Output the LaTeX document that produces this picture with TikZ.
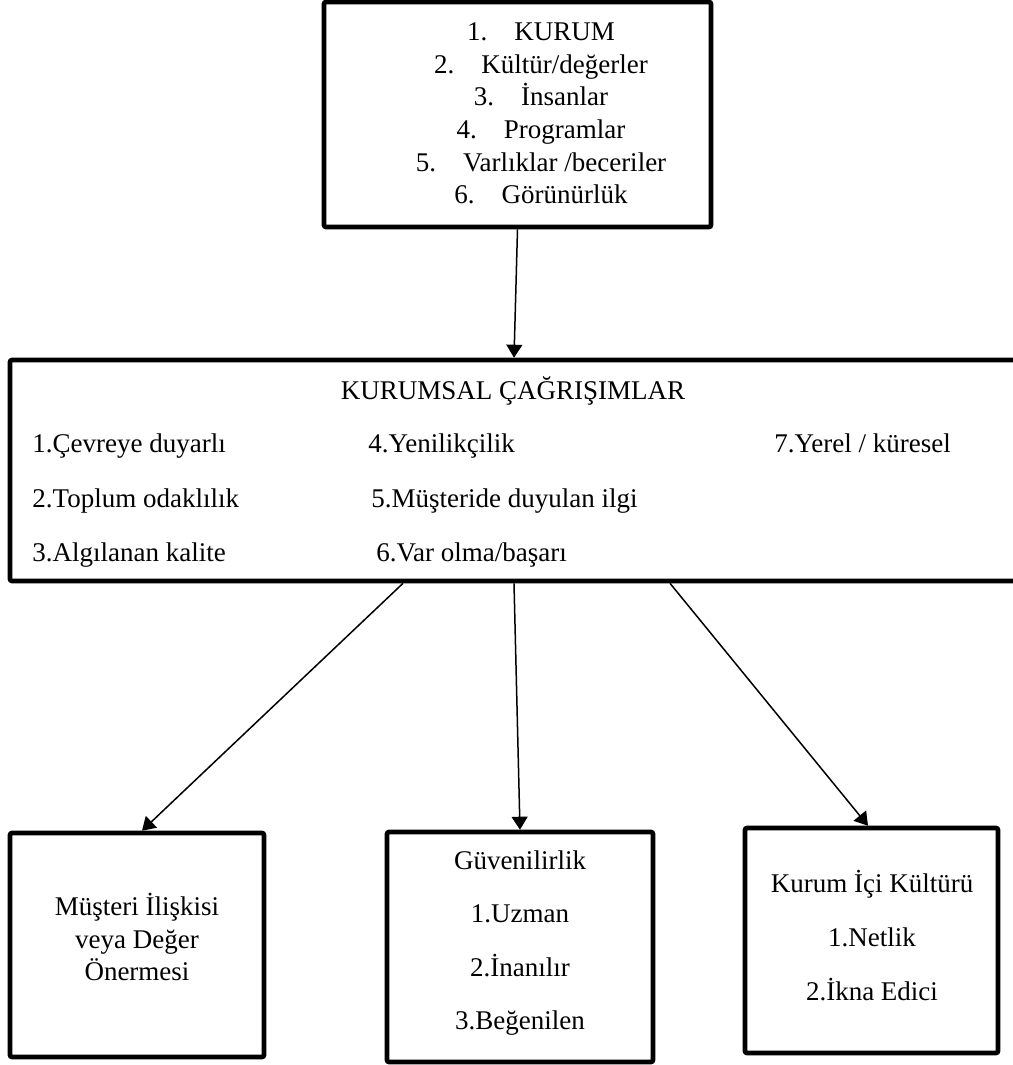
\documentclass[tikz,border=0pt]{standalone}
\usepackage{fontspec}
\setmainfont{Liberation Serif}
\usetikzlibrary{arrows.meta,positioning,fit,calc}
\tikzstyle{arrow} = [line width=0.75pt,-{Triangle[length=6.5pt,width=8pt]}]
\tikzstyle{kutu} = [rectangle, rounded corners=1pt, draw=black, line width=2.3pt, inner sep=0pt]
\tikzstyle{yazi} = [font=\fontsize{13.5}{16.3}\selectfont, inner sep=0pt]

\begin{document}
\begin{tikzpicture}[x=0.5pt, y=-0.5pt]
\useasboundingbox (0,0) rectangle (1012,1065);

% Kurum
\node[kutu, fit={(324,2) (711,227)}] (kurum) {};
\node[yazi, align=center] (kurumyazi) at (541, 113.5) {
1.\hspace{1em}KURUM\\
2.\hspace{1em}Kültür/değerler\\
3.\hspace{1em}İnsanlar\\
4.\hspace{1em}Programlar\\
5.\hspace{1em}Varlıklar /beceriler\\
6.\hspace{1em}Görünürlük
};

% Kurumsal cagrisimlar
\node[kutu, fit={(10,360) (1018,581)}] (cagrisim) {};
\node[yazi, anchor=base] (baslik) at (513, 399) {KURUMSAL ÇAĞRIŞIMLAR};
\node[yazi, anchor=base west] (c1) at (32, 452) {1.Çevreye duyarlı};
\node[yazi, anchor=base west] (c2) at (32, 507) {2.Toplum odaklılık};
\node[yazi, anchor=base west] (c3) at (32, 561) {3.Algılanan kalite};
\node[yazi, anchor=base west] (c4) at (368, 452) {4.Yenilikçilik};
\node[yazi, anchor=base west] (c5) at (371, 507) {5.Müşteride duyulan ilgi};
\node[yazi, anchor=base west] (c6) at (376, 561) {6.Var olma/başarı};
\node[yazi, anchor=base west] (c7) at (774, 452) {7.Yerel / küresel};

% Alt kutular
\node[kutu, fit={(10,833) (264,1057)}] (musteri) {};
\node[yazi, align=center] (musteriyazi) at (137, 937) {
Müşteri İlişkisi\\
veya Değer\\
Önermesi
};

\node[kutu, fit={(387,832) (653,1062)}] (guven) {};
\node[yazi, align=center, font=\fontsize{13.5}{26.7}\selectfont] (guvenyazi) at (520, 943) {
Güvenilirlik\\
1.Uzman\\
2.İnanılır\\
3.Beğenilen
};

\node[kutu, fit={(745,828) (998,1053)}] (kultur) {};
\node[yazi, align=center, font=\fontsize{13.5}{27}\selectfont] (kulturyazi) at (872, 936) {
Kurum İçi Kültürü\\
1.Netlik\\
2.İkna Edici
};

% Oklar
\draw[arrow] (kurum.south) -- (cagrisim.north);
\draw[arrow] ([xshift=-55.5pt]cagrisim.south) -- ([xshift=2.5pt]musteri.north);
\draw[arrow] (cagrisim.south) -- (guven.north);
\draw[arrow] ([xshift=78pt]cagrisim.south) -- ([xshift=-1.75pt]kultur.north);
\end{tikzpicture}
\end{document}
